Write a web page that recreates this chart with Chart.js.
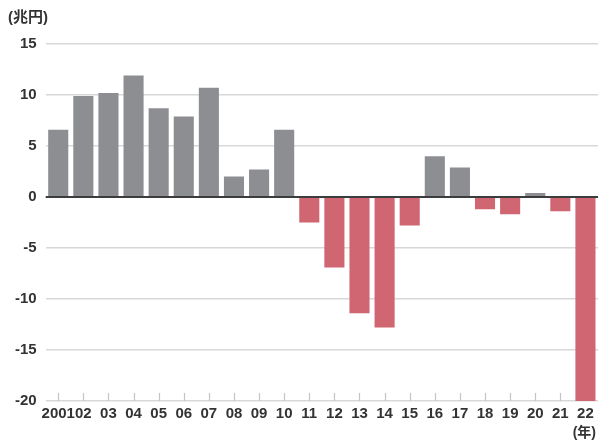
<!DOCTYPE html>
<html>
<head>
<meta charset="utf-8">
<script src="https://cdn.jsdelivr.net/npm/chart.js@4"></script>
<style>
  html, body { margin: 0; padding: 0; background: #fff; }
  #wrap { width: 599px; height: 441px; position: relative; }
</style>
</head>
<body>
<div id="wrap"><canvas id="chart"></canvas></div>
<script>
// 年（2001〜2022）
const years = ["2001", "02", "03", "04", "05", "06", "07", "08", "09", "10",
  "11", "12", "13", "14", "15", "16", "17", "18", "19", "20", "21", "22"];
// 兆円
const values = [6.6, 9.9, 10.2, 11.9, 8.7, 7.9, 10.7, 2.0, 2.7, 6.6,
  -2.5, -6.9, -11.4, -12.8, -2.8, 4.0, 2.9, -1.2, -1.7, 0.4, -1.4, -20.0];
const yTicks = [15, 10, 5, 0, -5, -10, -15, -20];

const GRAY = "#8d8e92";
const RED = "#cf6671";
const FONT = "'Liberation Sans', Arial, 'Noto Sans CJK JP', sans-serif";

// 目盛りの短い線とゼロ線、単位ラベル
const extras = {
  id: "extras",
  beforeDatasetsDraw(chart) {
    const { ctx, scales: { x, y } } = chart;
    const bottom = y.getPixelForValue(-20);
    ctx.save();
    ctx.strokeStyle = "#c4c4c4";
    ctx.lineWidth = 1.2;
    years.forEach((_, i) => {
      const px = Math.round(x.getPixelForTick(i)) + 0.5;
      ctx.beginPath();
      ctx.moveTo(px, bottom);
      ctx.lineTo(px, bottom - 8);
      ctx.stroke();
    });
    ctx.restore();
  },
  afterDatasetsDraw(chart) {
    const { ctx, chartArea, scales: { y } } = chart;
    const zero = y.getPixelForValue(0);
    ctx.save();
    ctx.strokeStyle = "#3c3c3c";
    ctx.lineWidth = 2;
    ctx.beginPath();
    ctx.moveTo(chartArea.left, zero);
    ctx.lineTo(chartArea.right, zero);
    ctx.stroke();

    ctx.fillStyle = "#333";
    ctx.font = "bold 15px " + FONT;
    ctx.textBaseline = "middle";
    ctx.textAlign = "left";
    ctx.fillText("(兆円)", 8, 18);
    ctx.font = "bold 14px " + FONT;
    ctx.textAlign = "right";
    ctx.fillText("(年)", chartArea.right - 2, 433);
    ctx.restore();
  }
};

new Chart(document.getElementById("chart"), {
  type: "bar",
  data: {
    labels: years,
    datasets: [{
      data: values,
      backgroundColor: values.map(v => (v < 0 ? RED : GRAY)),
      borderWidth: 0,
      categoryPercentage: 1.0,
      barPercentage: 0.8
    }]
  },
  options: {
    responsive: true,
    maintainAspectRatio: false,
    animation: false,
    layout: { padding: { left: 6, right: 1, top: 44, bottom: 14 } },
    plugins: {
      legend: { display: false },
      tooltip: { enabled: false }
    },
    scales: {
      x: {
        grid: { display: false, drawTicks: false },
        border: { display: false },
        ticks: {
          autoSkip: false,
          maxRotation: 0,
          padding: 4,
          color: "#333",
          font: { family: FONT, size: 15, weight: "bold" }
        }
      },
      y: {
        min: -20,
        max: 15,
        afterBuildTicks: (scale) => {
          scale.ticks = yTicks.map(v => ({ value: v }));
        },
        grid: {
          drawTicks: false,
          color: "#d8d8d8",
          lineWidth: 1.5
        },
        border: { display: false },
        ticks: {
          padding: 9,
          color: "#333",
          font: { family: FONT, size: 15, weight: "bold" }
        }
      }
    }
  },
  plugins: [extras]
});
</script>
</body>
</html>
